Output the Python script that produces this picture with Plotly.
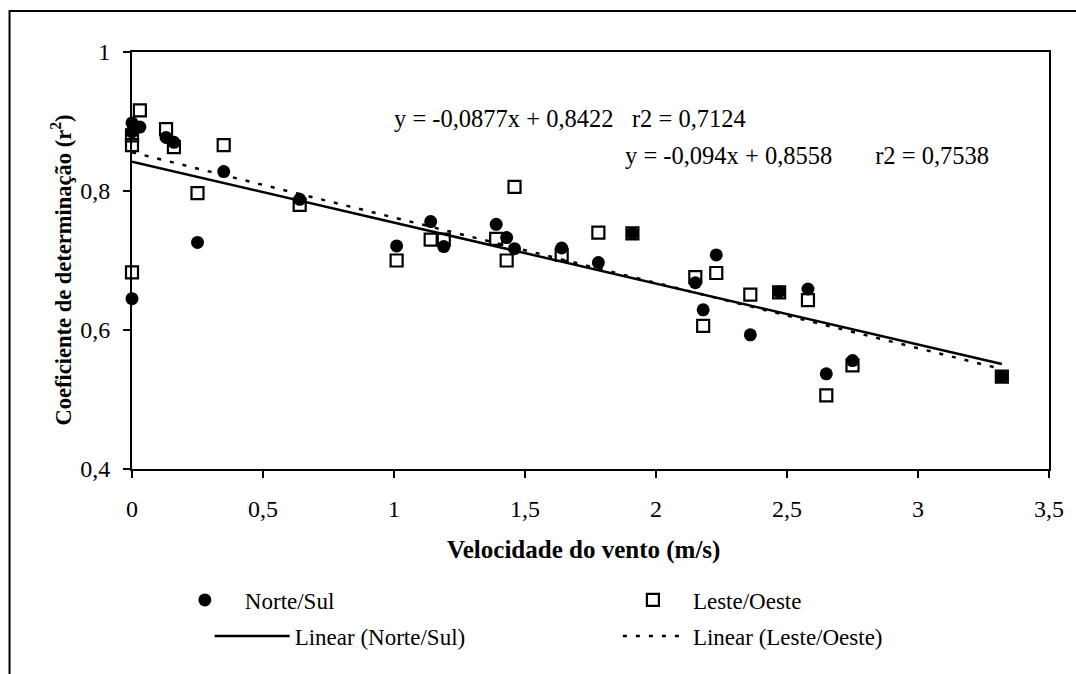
import numpy as np
import plotly.graph_objects as go

# ---- data ----
ns_x = [0, 0, 0, 0.03, 0.13, 0.16, 0.25, 0.35, 0.64, 1.01, 1.14, 1.19, 1.39, 1.43, 1.46,
        1.64, 1.78, 1.91, 2.15, 2.18, 2.23, 2.36, 2.47, 2.58, 2.65, 2.75, 3.32]
ns_y = [0.898, 0.885, 0.645, 0.892, 0.877, 0.870, 0.726, 0.828, 0.788, 0.721, 0.756, 0.720,
        0.752, 0.733, 0.717, 0.718, 0.697, 0.739, 0.668, 0.629, 0.708, 0.593, 0.655, 0.659,
        0.537, 0.556, 0.533]
lo_x = [0, 0, 0, 0.03, 0.13, 0.16, 0.25, 0.35, 0.64, 1.01, 1.14, 1.19, 1.39, 1.43, 1.46,
        1.64, 1.78, 1.91, 2.15, 2.18, 2.23, 2.36, 2.47, 2.58, 2.65, 2.75, 3.32]
lo_y = [0.880, 0.866, 0.683, 0.916, 0.889, 0.863, 0.797, 0.866, 0.780, 0.700, 0.730, 0.730,
        0.731, 0.700, 0.806, 0.708, 0.740, 0.739, 0.676, 0.606, 0.682, 0.651, 0.654, 0.643,
        0.506, 0.549, 0.533]

ns_slope, ns_icpt = -0.0877, 0.8422
lo_slope, lo_icpt = -0.094, 0.8558
ns_eq = "y = -0,0877x + 0,8422\u00a0\u00a0\u00a0r2 = 0,7124"
lo_eq = "y = -0,094x + 0,8558\u00a0\u00a0\u00a0\u00a0\u00a0\u00a0\u00a0r2 = 0,7538"

x_ticks = [0, 0.5, 1, 1.5, 2, 2.5, 3, 3.5]
x_ticklabels = ["0", "0,5", "1", "1,5", "2", "2,5", "3", "3,5"]
y_ticks = [0.4, 0.6, 0.8, 1.0]
y_ticklabels = ["0,4", "0,6", "0,8", "1"]

# ---- layout geometry ----
W, H = 1076, 674
L, R, T, B = 132, 23, 52, 205
PW, PH = W - L - R, H - T - B
def px(xp):
    return (xp - L) / PW
def py(yp):
    return (H - B - yp) / PH

FONT = "Liberation Serif, DejaVu Serif, Times New Roman, serif"
FS = 23

line_x = np.array([0.0, max(ns_x)])

fig = go.Figure()
fig.add_trace(go.Scatter(x=ns_x, y=ns_y, mode="markers", name="Norte/Sul",
                         marker=dict(symbol="circle", size=13, color="black"),
                         cliponaxis=False, legend="legend"))
fig.add_trace(go.Scatter(x=lo_x, y=lo_y, mode="markers", name="Leste/Oeste",
                         marker=dict(symbol="square-open", size=12, color="black",
                                     line=dict(width=2.2, color="black")),
                         cliponaxis=False, legend="legend2"))
fig.add_trace(go.Scatter(x=line_x, y=ns_slope * line_x + ns_icpt, mode="lines",
                         name="Linear (Norte/Sul)",
                         line=dict(color="black", width=2.5), legend="legend3"))
fig.add_trace(go.Scatter(x=line_x, y=lo_slope * line_x + lo_icpt, mode="lines",
                         name="Linear (Leste/Oeste)",
                         line=dict(color="black", width=2.5, dash="4px,9px"), legend="legend4"))

axis_common = dict(showgrid=False, zeroline=False, showline=True, linecolor="black",
                   linewidth=2, mirror=True, ticks="outside", ticklen=7, tickwidth=1.5,
                   tickcolor="black", tickfont=dict(family=FONT, size=24, color="black"))

def leg(x0, yc, iw):
    return dict(orientation="h", x=px(x0), y=py(yc), xanchor="left", yanchor="middle",
                itemwidth=iw, font=dict(family=FONT, size=FS, color="black"),
                bgcolor="rgba(0,0,0,0)")

fig.update_layout(
    width=W, height=H,
    font=dict(family=FONT, color="black"),
    margin=dict(l=L, r=R, t=T, b=B, pad=0),
    paper_bgcolor="white", plot_bgcolor="white",
    xaxis=dict(range=[0, 3.5], tickvals=x_ticks, ticktext=x_ticklabels,
               ticklabelstandoff=10, **axis_common),
    yaxis=dict(range=[0.4, 1.0], tickvals=y_ticks, ticktext=y_ticklabels,
               ticklabelstandoff=8, **axis_common),
    legend=leg(165, 600, 70),
    legend2=leg(615, 600, 70),
    legend3=leg(210, 636, 75),
    legend4=leg(620, 636, 65),
    showlegend=True,
)

fig.add_annotation(x=px(585), y=py(566), xref="paper", yref="paper",
                   text="<b>Velocidade do vento (m/s)</b>", showarrow=False,
                   font=dict(family=FONT, size=25, color="black"))
fig.add_annotation(x=px(45), y=py(270), xref="paper", yref="paper", textangle=-90,
                   text="<b>Coeficiente de determinação (r<sup>2</sup>)</b>", showarrow=False,
                   font=dict(family=FONT, size=22.5, color="black"))
fig.add_annotation(x=px(393), y=py(103), xref="paper", yref="paper", xanchor="left",
                   text=ns_eq, showarrow=False, font=dict(family=FONT, size=24.5, color="black"))
fig.add_annotation(x=px(625), y=py(140), xref="paper", yref="paper", xanchor="left",
                   text=lo_eq, showarrow=False, font=dict(family=FONT, size=24.5, color="black"))

# outer chart frame (left and top edges visible)
fig.add_shape(type="rect", xref="paper", yref="paper", x0=px(9), y0=py(690), x1=px(1090),
              y1=py(11), line=dict(color="black", width=2), layer="below")

fig.write_html("out.html")
